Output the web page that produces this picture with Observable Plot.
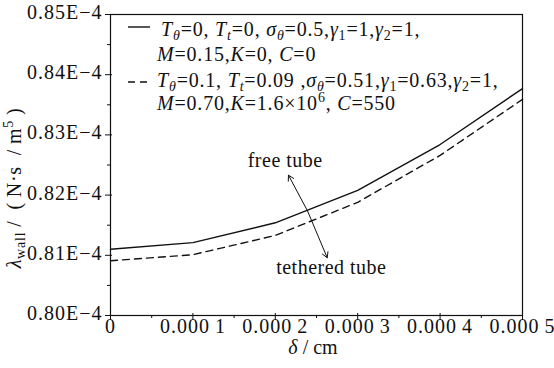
<!DOCTYPE html>
<html>
<head>
<meta charset="utf-8">
<script src="https://cdn.jsdelivr.net/npm/d3@7"></script>
<script src="https://cdn.jsdelivr.net/npm/@observablehq/plot@0.6"></script>
<style>
  html, body { margin: 0; padding: 0; background: #fff; }
  #chart svg { display: block; }
</style>
</head>
<body>
<div id="chart"></div>
<script>
// Wall gap δ (cm) and wall damping coefficient λ_wall (in units of 1E-4 N·s/m^5)
const delta = [0, 0.0001, 0.0002, 0.0003, 0.0004, 0.0005];
const freeTube = [0.8110, 0.8121, 0.8154, 0.8208, 0.8284, 0.8377];
const tetheredTube = [0.8091, 0.8101, 0.8133, 0.8188, 0.8266, 0.8359];

// Axis ticks
const yMajorTicks = [0.80, 0.81, 0.82, 0.83, 0.84, 0.85];
const yMinorTicks = [0.805, 0.815, 0.825, 0.835, 0.845];
const xMajorTicks = [0, 0.0001, 0.0002, 0.0003, 0.0004, 0.0005];
const xMinorTicks = [0.00005, 0.00015, 0.00025, 0.00035, 0.00045];

// Curve annotations: double-headed pointer and its two labels
const pointerOrigin = {x: 0.000239, y: 0.8174};
const pointerTips = [
  {x: 0.000216, y: 0.8233},
  {x: 0.000263, y: 0.8096}
];
const curveLabels = [
  {text: "free tube", x: 0.000212, y: 0.8258},
  {text: "tethered tube", x: 0.000268, y: 0.8080}
];

// Legend entries: [text, style] with style letters i = italic, b = subscript, p = superscript
const legendSolid = [
  [["T", "i"], ["θ", "ib"], ["=0, "], ["T", "i"], ["t", "ib"], ["=0, "], ["σ", "i"], ["θ", "ib"], ["=0.5,"],
   ["γ", "i"], ["1", "b"], ["=1,"], ["γ", "i"], ["2", "b"], ["=1,"]],
  [["M", "i"], ["=0.15,"], ["K", "i"], ["=0, "], ["C", "i"], ["=0"]]
];
const legendDashed = [
  [["T", "i"], ["θ", "ib"], ["=0.1, "], ["T", "i"], ["t", "ib"], ["=0.09 ,"], ["σ", "i"], ["θ", "ib"], ["=0.51,"],
   ["γ", "i"], ["1", "b"], ["=0.63,"], ["γ", "i"], ["2", "b"], ["=1,"]],
  [["M", "i"], ["=0.70,"], ["K", "i"], ["=1.6×10"], ["6", "p"], [", "], ["C", "i"], ["=550"]]
];
const yTitle = [["λ", "i"], ["wall", "b"], ["\u2009/\u2002(\u2009N·s\u2002/\u2009m"], ["5", "p"], ["\u2009)"]];
const xTitle = [["δ", "i"], [" / cm"]];

const FONT = "'Liberation Serif', 'Times New Roman', serif";
const INK = "#111";

const pointerRows = pointerTips.map(t => ({x1: pointerOrigin.x, y1: pointerOrigin.y, x2: t.x, y2: t.y}));

const chart = Plot.plot({
  width: 554,
  height: 368,
  marginLeft: 110,
  marginRight: 32,
  marginTop: 14,
  marginBottom: 53,
  style: {fontFamily: FONT, fontSize: "20px", background: "#fff", color: INK, overflow: "visible"},
  x: {domain: [0, 0.0005], label: null},
  y: {domain: [0.80, 0.85], label: null},
  marks: [
    Plot.frame({stroke: INK, strokeWidth: 1.2}),
    // y axis: major ticks crossing the spine, minor ticks outside, labels
    Plot.axisY(yMajorTicks, {tickSize: 7, insetLeft: 2, tickFormat: () => "", label: null, stroke: INK}),
    Plot.axisY(yMinorTicks, {tickSize: 3, tickFormat: () => "", label: null, stroke: INK}),
    Plot.axisY(yMajorTicks, {tickSize: 0, tickPadding: 8, dy: -2, label: null, fill: INK,
      tickFormat: d => d.toFixed(2) + "E\u22124"}),
    // x axis
    Plot.axisX(xMajorTicks, {tickSize: 7, insetBottom: 2, tickFormat: () => "", label: null, stroke: INK}),
    Plot.axisX(xMinorTicks, {tickSize: 3, tickFormat: () => "", label: null, stroke: INK}),
    Plot.axisX(xMajorTicks, {tickSize: 0, tickPadding: 3, label: null, fill: INK,
      tickFormat: d => d === 0 ? "0" : d.toFixed(4).replace(/(\d)$/, "\u2009$1")}),
    // curves
    Plot.line(delta, {x: d => d, y: freeTube, stroke: INK, strokeWidth: 1.4}),
    Plot.line(delta, {x: d => d, y: tetheredTube, stroke: INK, strokeWidth: 1.4, strokeDasharray: "7,5"}),
    // annotations
    Plot.arrow(pointerRows, {x1: "x1", y1: "y1", x2: "x2", y2: "y2", stroke: INK, strokeWidth: 1, headLength: 9, bend: 0}),
    Plot.text(curveLabels, {x: "x", y: "y", text: "text", fontSize: 20, fill: INK})
  ]
});

document.getElementById("chart").appendChild(chart);

const svg = d3.select(chart);
// Slightly wider letter spacing for the tick labels and curve labels
svg.selectAll("[aria-label='y-axis tick label'] text, [aria-label='x-axis tick label'] text")
  .style("letter-spacing", "1px");
svg.selectAll("[aria-label='text'] text").style("letter-spacing", "0.5px");

// Rich text (italics, sub/superscripts) drawn into the plot's SVG
function richText(parent, x, y, parts, anchor = "start", size = 20) {
  const text = parent.append("text")
    .attr("x", x).attr("y", y)
    .attr("text-anchor", anchor)
    .attr("font-family", FONT).attr("font-size", size).attr("fill", INK);
  let shift = 0;
  for (const [str, style = ""] of parts) {
    const target = style.includes("b") ? 4 : style.includes("p") ? -8 : 0;
    const ts = text.append("tspan").text(str).attr("dy", target - shift);
    shift = target;
    if (style.includes("b") || style.includes("p")) ts.attr("font-size", size * 0.7);
    if (style.includes("i")) ts.attr("font-style", "italic");
  }
  return text;
}

const legend = svg.append("g").style("letter-spacing", "0.8px");
legend.append("line").attr("x1", 128).attr("x2", 150).attr("y1", 27).attr("y2", 27)
  .attr("stroke", INK).attr("stroke-width", 1.4);
richText(legend, 161, 36, legendSolid[0]);
richText(legend, 157, 61, legendSolid[1]);
legend.append("line").attr("x1", 128).attr("x2", 152).attr("y1", 82).attr("y2", 82)
  .attr("stroke", INK).attr("stroke-width", 1.4).attr("stroke-dasharray", "7,5");
richText(legend, 157, 87, legendDashed[0]);
richText(legend, 157, 110, legendDashed[1]);

richText(svg, 313, 354, xTitle, "middle");
richText(svg.append("g").attr("transform", "translate(21,188) rotate(-90)"), 0, 0, yTitle, "middle")
  .style("letter-spacing", "0.8px");
</script>
</body>
</html>
